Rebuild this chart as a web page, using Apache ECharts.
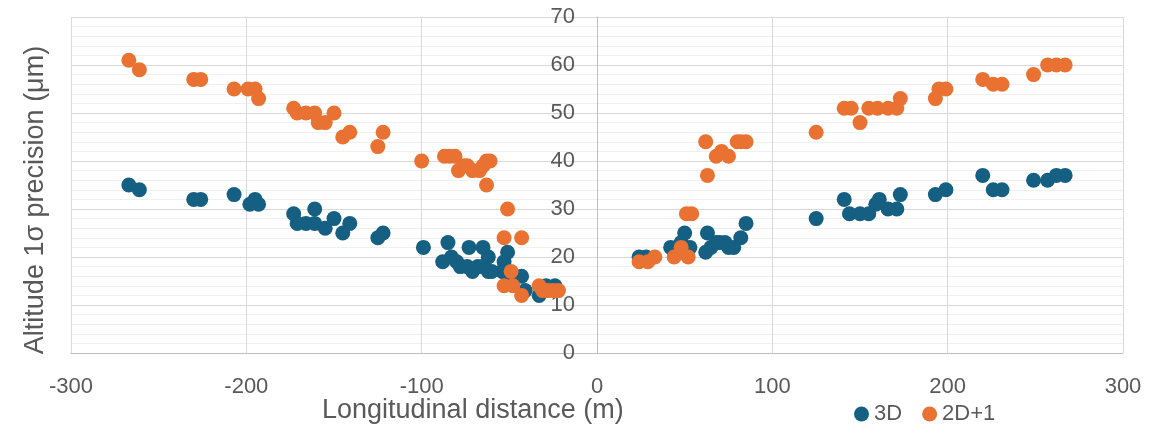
<!DOCTYPE html>
<html><head><meta charset="utf-8">
<script src="https://cdn.jsdelivr.net/npm/echarts@6/dist/echarts.min.js"></script>
<style>html,body{margin:0;padding:0;background:#fff}#c{width:1173px;height:430px}</style>
</head><body><div id="c"></div>
<script>
const seriesNames = ['3D', '2D+1'];
const xTitle = 'Longitudinal distance (m)';
const yTitle = 'Altitude 1σ precision (μm)';

const x3D = [-267,-261,-230,-226,-207,-198,-195,-193,-173,-171,-166,-161,-161,-155,-150,-145,-141,-125,-122,
  -99,-88,-85,-83,-80,-78,-74,-73,-71,-68,-65,-65,-62,-62,-60,-54,-53,-51,-51,-43,-41,-33,-29,-24,
  24,28,42,48,50,53,62,63,65,68,70,73,75,78,82,85,
  125,141,144,150,155,159,161,166,171,173,193,199,220,226,231,249,257,262,267];
const y3D = [35,34,32,32,33,31,32,31,29,27,27,30,27,26,28,25,27,24,25,
  22,19,23,20,19,18,18,22,17,18,22,18,20,17,17,17,19,21,16,16,13,12,14,14,
  20,20,22,23,25,22,21,25,22,23,23,23,22,22,24,27,
  28,32,29,29,29,31,32,30,30,33,33,34,37,34,34,36,36,37,37];

const x2D = [-267,-261,-230,-226,-207,-199,-195,-193,-173,-171,-166,-161,-159,-155,-150,-145,-141,-125,-122,
  -100,-87,-84,-81,-79,-76,-74,-71,-67,-65,-63,-63,-61,-51,-53,-43,-49,-53,-48,-43,-33,-31,-28,-25,-22,
  24,29,33,44,48,52,51,54,62,63,68,71,75,80,82,85,
  125,141,145,150,155,160,166,171,173,193,195,199,220,226,231,249,257,262,267];
const y2D = [61,59,57,57,55,55,55,53,51,50,50,50,48,48,50,45,46,43,46,
  40,41,41,41,38,39,39,38,38,39,35,40,40,30,24,24,17,14,14,12,14,13,13,13,13,
  19,19,20,20,22,20,29,29,44,37,41,42,41,44,44,44,
  46,51,51,48,51,51,51,51,53,53,55,55,57,56,56,58,60,60,60];

const pairs = (xs, ys) => xs.map((x, i) => [x, ys[i]]);
const FONT = '"Liberation Sans", Arial, sans-serif';
const chart = echarts.init(document.getElementById('c'), null, {renderer: 'canvas'});
chart.setOption({
  animation: false,
  backgroundColor: '#ffffff',
  grid: {left: 71, right: 50, top: 17, bottom: 77, containLabel: false},
  legend: {
    data: seriesNames, left: 854, top: 403, padding: 0, itemWidth: 15, itemHeight: 15, itemGap: 20,
    icon: 'circle', textStyle: {fontFamily: FONT, fontSize: 22, color: '#595959'}
  },
  graphic: [
    {type: 'text', x: 322, y: 411,
     style: {text: xTitle, font: '27px ' + FONT, fill: '#595959', align: 'left', verticalAlign: 'middle', textAlign: 'left', textVerticalAlign: 'middle'}},
    {type: 'text', x: 36, y: 200, rotation: Math.PI / 2,
     style: {text: yTitle, font: '27px ' + FONT, fill: '#595959', align: 'center', verticalAlign: 'middle', textAlign: 'center', textVerticalAlign: 'middle'}}
  ],
  xAxis: {
    type: 'value', min: -300, max: 300, interval: 100,
    axisLine: {show: true, onZero: true, lineStyle: {color: '#bfbfbf', width: 1}},
    axisTick: {show: false},
    axisLabel: {fontFamily: FONT, fontSize: 22, color: '#595959', margin: 23},
    splitLine: {show: true, lineStyle: {color: '#d9d9d9', width: 1}}
  },
  yAxis: {
    type: 'value', min: 0, max: 70, interval: 10, offset: -526,
    axisLine: {show: true, onZero: false, lineStyle: {color: '#bfbfbf', width: 1}},
    axisTick: {show: false},
    minorTick: {show: false, splitNumber: 5},
    minorSplitLine: {show: true, lineStyle: {color: '#f0f0f0', width: 1}},
    axisLabel: {fontFamily: FONT, fontSize: 22, color: '#595959', margin: 22},
    splitLine: {show: true, lineStyle: {color: '#d9d9d9', width: 1}}
  },
  series: [
    {name: seriesNames[0], type: 'scatter', symbolSize: 15, itemStyle: {color: '#156082', opacity: 1}, data: pairs(x3D, y3D)},
    {name: seriesNames[1], type: 'scatter', symbolSize: 15, itemStyle: {color: '#E97132', opacity: 1}, data: pairs(x2D, y2D)}
  ]
});
</script>
</body></html>
